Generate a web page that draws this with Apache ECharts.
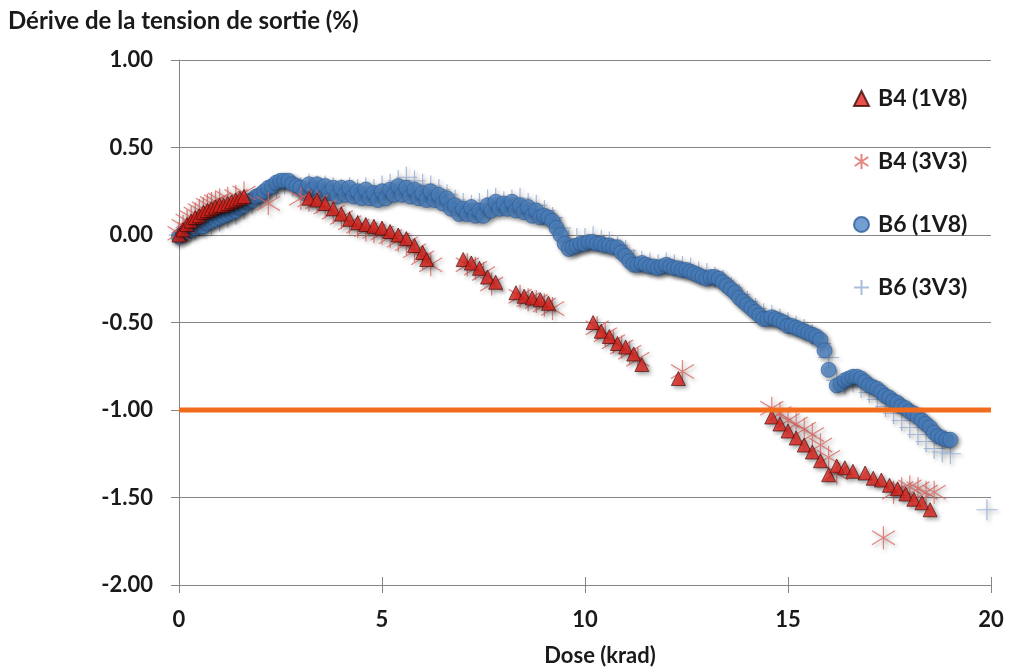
<!DOCTYPE html>
<html>
<head>
<meta charset="utf-8">
<script src="https://cdn.jsdelivr.net/npm/echarts@6/dist/echarts.min.js"></script>
<style>
  html, body { margin: 0; padding: 0; background: #ffffff; }
  #chart { width: 1010px; height: 672px; }
</style>
</head>
<body>
<div id="chart"></div>
<script>
// Dose (krad) and output-voltage drift (%) per device / supply rail
const doseB4_1V8 = [0.0,0.1,0.2,0.3,0.4,0.5,0.6,0.7,0.8,0.9,1.0,1.1,1.2,1.3,1.4,1.5,1.6,
  3.2,3.4,3.6,3.8,4.0,4.2,4.4,4.6,4.8,5.0,5.2,5.4,5.6,5.8,6.0,6.1,
  7.0,7.2,7.4,7.6,7.8, 8.3,8.5,8.7,8.9,9.1, 10.2,10.4,10.6,10.8,11.0,11.2,11.4, 12.3,
  14.6,14.8,15.0,15.2,15.4,15.6,15.8,16.0,16.2,16.4,16.6,16.9,17.1,17.3,17.5,17.7,17.9,18.1,18.3,18.5];
const driftB4_1V8 = [0.00,0.03,0.06,0.08,0.10,0.11,0.13,0.14,0.15,0.16,0.17,0.17,0.18,0.19,0.20,0.21,0.22,
  0.21,0.20,0.18,0.15,0.12,0.09,0.07,0.06,0.05,0.04,0.02,0.00,-0.02,-0.06,-0.10,-0.14,
  -0.14,-0.16,-0.19,-0.24,-0.27, -0.33,-0.35,-0.36,-0.37,-0.39, -0.50,-0.55,-0.58,-0.62,-0.64,-0.68,-0.74, -0.82,
  -1.04,-1.08,-1.12,-1.16,-1.20,-1.24,-1.29,-1.37,-1.32,-1.33,-1.35,-1.36,-1.39,-1.40,-1.43,-1.45,-1.48,-1.51,-1.53,-1.57];

const doseB4_3V3 = [0.0,0.1,0.2,0.3,0.4,0.5,0.6,0.7,0.8,0.9,1.0,1.2,1.4,1.6, 2.2,
  3.0,3.2,3.4,3.6,3.8,4.0,4.2,4.4,4.6,4.8,5.0,5.2,5.4,5.6,5.8,6.0,6.2,
  7.1,7.3,7.5,7.7, 8.4,8.6,8.8,9.0,9.2, 10.3,10.5,10.7,10.9,11.1,11.3, 12.4,
  14.6,14.8,15.0,15.2,15.4,15.6,15.8,16.0,16.2, 17.35, 17.6,17.8,18.0,18.2,18.4,18.6];
const driftB4_3V3 = [0.01,0.05,0.08,0.10,0.12,0.14,0.15,0.17,0.18,0.19,0.20,0.21,0.22,0.24, 0.18,
  0.21,0.20,0.19,0.16,0.13,0.10,0.07,0.05,0.03,0.02,0.01,-0.01,-0.03,-0.05,-0.09,-0.13,-0.17,
  -0.17,-0.19,-0.22,-0.28, -0.35,-0.37,-0.38,-0.40,-0.42, -0.53,-0.57,-0.61,-0.64,-0.67,-0.71, -0.78,
  -0.99,-1.02,-1.06,-1.08,-1.11,-1.14,-1.20,-1.27,-1.36, -1.73, -1.47,-1.45,-1.44,-1.45,-1.47,-1.47];

const doseB6_1V8 = [0.0,0.1,0.2,0.3,0.4,0.5,0.6,0.7,0.8,0.9,1.0,1.1,1.2,1.3,1.4,1.5,1.6,1.7,1.8,1.9,
  2.0,2.1,2.2,2.3,2.4,2.5,2.6,2.7,2.8,2.9,3.0,3.1,3.2,3.3,3.4,3.5,3.6,3.7,3.8,3.9,
  4.0,4.1,4.2,4.3,4.4,4.5,4.6,4.7,4.8,4.9,5.0,5.1,5.2,5.3,5.4,5.5,5.6,5.7,5.8,5.9,
  6.0,6.1,6.2,6.3,6.4,6.5,6.6,6.7,6.8,6.9,7.0,7.1,7.2,7.3,7.4,7.5,7.6,7.7,7.8,7.9,
  8.0,8.1,8.2,8.3,8.4,8.5,8.6,8.7,8.8,8.9,9.0,9.1,9.2,9.3,9.4,9.5,9.6,9.7,9.8,9.9,
  10.0,10.1,10.2,10.3,10.4,10.5,10.6,10.7,10.8,10.9,11.0,11.1,11.2,11.3,11.4,11.5,11.6,11.7,11.8,11.9,
  12.0,12.1,12.2,12.3,12.4,12.5,12.6,12.7,12.8,12.9,13.0,13.1,13.2,13.3,13.4,13.5,13.6,13.7,13.8,13.9,
  14.0,14.1,14.2,14.3,14.4,14.5,14.6,14.7,14.8,14.9,15.0,15.1,15.2,15.3,15.4,15.5,15.6,15.7,15.8,15.9,
  16.0,16.2,16.3,16.4,16.5,16.6,16.7,16.8,16.9,17.0,17.1,17.2,17.3,17.4,17.5,17.6,17.7,17.8,17.9,
  18.0,18.1,18.2,18.3,18.4,18.5,18.6,18.7,18.8,18.9,19.0];
const driftB6_1V8 = [-0.01,0.01,0.02,0.03,0.04,0.05,0.05,0.07,0.08,0.09,0.10,0.11,0.12,0.13,0.14,0.16,0.17,0.19,0.20,0.22,
  0.23,0.25,0.27,0.28,0.30,0.31,0.31,0.31,0.29,0.28,0.27,0.24,0.29,0.26,0.29,0.24,0.28,0.24,0.27,0.22,
  0.27,0.23,0.27,0.22,0.25,0.21,0.26,0.21,0.24,0.20,0.25,0.21,0.26,0.23,0.28,0.23,0.27,0.22,0.26,0.21,
  0.24,0.20,0.25,0.20,0.23,0.18,0.21,0.15,0.17,0.12,0.15,0.12,0.16,0.11,0.14,0.11,0.17,0.14,0.19,0.15,
  0.18,0.15,0.19,0.14,0.17,0.13,0.16,0.11,0.14,0.10,0.11,0.10,0.08,0.04,0.00,-0.05,-0.08,-0.07,-0.06,-0.05,
  -0.05,-0.04,-0.04,-0.05,-0.05,-0.06,-0.06,-0.07,-0.07,-0.10,-0.12,-0.15,-0.17,-0.17,-0.16,-0.17,-0.18,-0.18,-0.19,-0.18,
  -0.17,-0.18,-0.19,-0.19,-0.20,-0.20,-0.21,-0.22,-0.23,-0.24,-0.25,-0.24,-0.24,-0.25,-0.27,-0.29,-0.31,-0.33,-0.36,-0.38,
  -0.40,-0.42,-0.44,-0.46,-0.48,-0.48,-0.47,-0.48,-0.49,-0.50,-0.52,-0.52,-0.53,-0.54,-0.55,-0.56,-0.57,-0.58,-0.60,-0.66,
  -0.77,-0.86,-0.85,-0.83,-0.82,-0.81,-0.81,-0.82,-0.84,-0.86,-0.87,-0.88,-0.90,-0.92,-0.93,-0.95,-0.96,-0.98,-0.99,
  -1.01,-1.02,-1.04,-1.06,-1.08,-1.10,-1.13,-1.15,-1.16,-1.17,-1.17];

const doseB6_3V3 = [0.0,0.2,0.4,0.6,0.8,1.0,1.2,1.4,1.6,1.8,2.0,2.2,2.4,2.6,2.8,3.0,3.2,3.4,3.6,3.8,
  4.0,4.2,4.4,4.6,4.8,5.0,5.2,5.4,5.6,5.8,6.0,6.2,6.4,6.6,6.8,7.0,7.2,7.4,7.6,7.8,
  8.0,8.2,8.4,8.6,8.8,9.0,9.2,9.4,9.6,9.8,10.0,10.2,10.4,10.6,10.8,11.0,11.2,11.4,11.6,11.8,
  12.0,12.2,12.4,12.6,12.8,13.0,13.2,13.4,13.6,13.8,14.0,14.2,14.4,14.6,14.8,15.0,15.2,15.4,15.6,15.8,
  16.0,16.2,16.4,16.6,16.8,17.0,17.2,17.4,17.6,17.8,18.0,18.2,18.4,18.6,18.8,19.0, 19.9];
const driftB6_3V3 = [0.00,0.02,0.03,0.05,0.06,0.08,0.10,0.12,0.15,0.18,0.21,0.24,0.27,0.29,0.28,0.27,0.29,0.28,0.28,0.27,
  0.26,0.27,0.26,0.27,0.26,0.28,0.29,0.31,0.33,0.31,0.29,0.28,0.26,0.23,0.20,0.18,0.17,0.18,0.20,0.21,
  0.19,0.20,0.21,0.18,0.17,0.14,0.10,0.04,-0.03,-0.02,-0.02,-0.01,-0.03,-0.04,-0.06,-0.09,-0.14,-0.15,-0.16,-0.17,
  -0.16,-0.17,-0.18,-0.19,-0.21,-0.22,-0.24,-0.26,-0.30,-0.34,-0.38,-0.42,-0.45,-0.46,-0.48,-0.50,-0.52,-0.54,-0.57,-0.62,
  -0.70,-0.83,-0.85,-0.84,-0.87,-0.90,-0.94,-0.98,-1.02,-1.06,-1.10,-1.14,-1.18,-1.22,-1.24,-1.25, -1.57];

// Tolerance limit (%)
const limitDose = [0, 20];
const limitDrift = [-1.00, -1.00];

const seriesNames = ['B4 (1V8)', 'B4 (3V3)', 'B6 (1V8)', 'B6 (3V3)'];

function pairs(xs, ys) { return xs.map((x, i) => [x, ys[i]]); }

const FONT = 'Lato, "Open Sans", sans-serif';
const INK = '#1a1a1a';
const AXIS_GREY = '#858585';
const shadow = { shadowBlur: 4, shadowOffsetX: 2, shadowOffsetY: 2, shadowColor: 'rgba(0,0,0,0.45)' };

const chart = echarts.init(document.getElementById('chart'), null, { renderer: 'canvas' });
chart.setOption({
  animation: false,
  backgroundColor: '#ffffff',
  title: {
    // zero-width non-joiner keeps "ti" from turning into a ligature
    text: 'Dérive de la tension de sor\u200Ctie (%)',
    left: 8, top: 9, padding: 0,
    textStyle: { fontFamily: FONT, fontWeight: 'bold', fontSize: 24, color: INK }
  },
  grid: { left: 179, right: 19, top: 60, bottom: 80, containLabel: false },
  legend: {
    data: seriesNames,
    orient: 'vertical',
    left: 853, top: 87, padding: 0,
    itemWidth: 15, itemHeight: 15,
    itemGap: 40,
    textStyle: { fontFamily: FONT, fontWeight: 'bold', fontSize: 23, lineHeight: 22, color: INK, padding: [0, 0, 0, 4] }
  },
  xAxis: [
    {
      type: 'value', min: 0, max: 20, interval: 5, position: 'bottom',
      name: 'Dose (krad)', nameLocation: 'middle', nameGap: 60,
      nameTextStyle: { fontFamily: FONT, fontWeight: 'bold', fontSize: 22, color: INK, padding: [0, 0, 0, 30] },
      axisLine: { onZero: false, lineStyle: { color: AXIS_GREY, width: 1 } },
      axisTick: { show: true, length: 8, lineStyle: { color: AXIS_GREY } },
      axisLabel: { margin: 24, fontFamily: FONT, fontWeight: 'bold', fontSize: 22, color: INK },
      splitLine: { show: false }
    },
    {
      // inner half of the crossing tick marks on the dose axis
      type: 'value', min: 0, max: 20, interval: 5, position: 'bottom', offset: 0,
      axisLine: { show: false, onZero: false },
      axisTick: { show: true, inside: true, length: 8, lineStyle: { color: AXIS_GREY } },
      axisLabel: { show: false },
      splitLine: { show: false }
    }
  ],
  yAxis: {
    type: 'value', min: -2, max: 1, interval: 0.5,
    axisLine: { show: true, onZero: false, lineStyle: { color: AXIS_GREY, width: 1 } },
    axisTick: { show: true, length: 8, lineStyle: { color: AXIS_GREY } },
    axisLabel: {
      margin: 26, fontFamily: FONT, fontWeight: 'bold', fontSize: 22, color: INK,
      formatter: v => v.toFixed(2)
    },
    splitLine: { show: true, lineStyle: { color: AXIS_GREY, width: 1 } }
  },
  series: [
    {
      name: 'B6 (3V3)', type: 'scatter', z: 2,
      data: pairs(doseB6_3V3, driftB6_3V3),
      symbol: 'path://M-10,0L10,0M0,-10L0,10', symbolSize: 21,
      itemStyle: Object.assign({ color: 'transparent', borderColor: '#93acd4', borderWidth: 1.2 }, shadow)
    },
    {
      name: 'B6 (1V8)', type: 'scatter', z: 2,
      data: pairs(doseB6_1V8, driftB6_1V8),
      symbol: 'circle', symbolSize: 15,
      itemStyle: Object.assign({ color: '#4f86c6', borderColor: '#2f5f9a', borderWidth: 0.8 }, shadow)
    },
    {
      name: 'B4 (3V3)', type: 'scatter', z: 3,
      data: pairs(doseB4_3V3, driftB4_3V3),
      symbol: 'path://M0,-10L0,10M-9,-6L9,6M-9,6L9,-6', symbolSize: 23,
      itemStyle: Object.assign({ color: 'transparent', borderColor: '#de6660', borderWidth: 1.2 }, shadow)
    },
    {
      name: 'B4 (1V8)', type: 'scatter', z: 3,
      data: pairs(doseB4_1V8, driftB4_1V8),
      symbol: 'triangle', symbolSize: 14,
      itemStyle: Object.assign({ color: '#e3261f', borderColor: '#3d0a08', borderWidth: 0.8 }, shadow)
    },
    {
      name: 'Limite', type: 'line', z: 4,
      data: pairs(limitDose, limitDrift),
      symbol: 'none', silent: true,
      lineStyle: { color: '#f26b1d', width: 5 }
    }
  ]
});
</script>
</body>
</html>
